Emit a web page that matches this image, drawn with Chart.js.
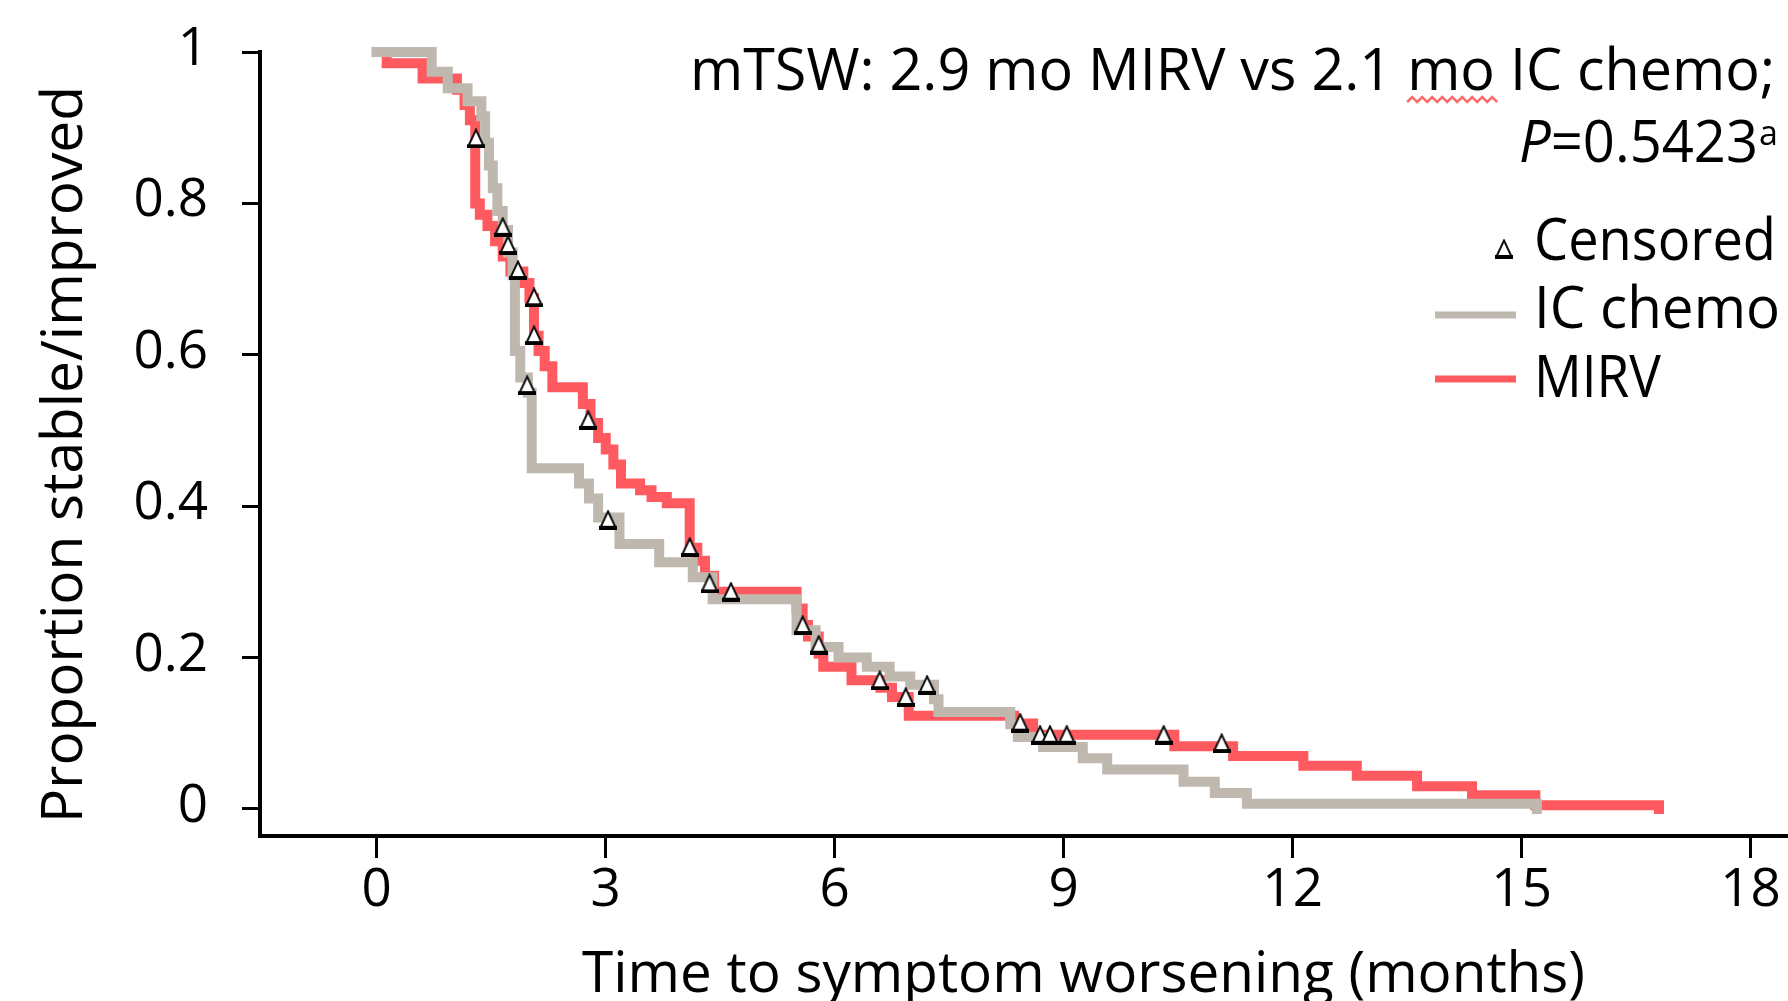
<!DOCTYPE html>
<html>
<head>
<meta charset="utf-8">
<title>Time to symptom worsening</title>
<script src="https://cdn.jsdelivr.net/npm/chart.js@4.4.1/dist/chart.umd.min.js"></script>
<style>
  html, body { margin:0; padding:0; background:#fff; }
  #wrap { width:1788px; height:1001px; }
</style>
</head>
<body>
<div id="wrap"><canvas id="kmChart" width="1788" height="1001"></canvas></div>
<script>
/* =======================
   DATA
======================= */
const mirvTime = [0, 0.13, 0.6, 1.05, 1.15, 1.22, 1.29, 1.35, 1.45, 1.55, 1.65, 1.75, 1.92, 2.0, 2.06, 2.12, 2.2, 2.3, 2.7, 2.8,
  2.9, 3.0, 3.1, 3.2, 3.45, 3.6, 3.8, 4.1, 4.2, 4.3, 4.42, 5.5, 5.58, 5.65, 5.79, 5.85, 6.22, 6.6, 6.75, 6.97,
  8.35, 8.6, 10.45, 11.22, 12.14, 12.84, 13.63, 14.35, 15.18, 16.8];
const mirvSurv = [1, 0.985, 0.965, 0.95, 0.93, 0.91, 0.8, 0.785, 0.77, 0.75, 0.73, 0.71, 0.695, 0.675, 0.625, 0.605, 0.585, 0.557, 0.535, 0.51,
  0.49, 0.475, 0.455, 0.43, 0.421, 0.412, 0.404, 0.345, 0.328, 0.308, 0.287, 0.265, 0.243, 0.228, 0.205, 0.188, 0.17, 0.16, 0.148, 0.123,
  0.113, 0.098, 0.083, 0.07, 0.057, 0.044, 0.03, 0.018, 0.005, 0];

const icTime = [0, 0.72, 0.93, 1.19, 1.37, 1.42, 1.47, 1.52, 1.58, 1.65, 1.72, 1.78, 1.81, 1.88, 1.98, 2.03, 2.65, 2.78, 2.9, 3.18,
  3.7, 4.14, 4.4, 5.5, 5.75, 6.05, 6.42, 6.72, 6.99, 7.3, 7.36, 8.3, 8.4, 8.73, 9.25, 9.57, 10.57, 10.98, 11.4, 15.2];
const icSurv = [1, 0.974, 0.952, 0.935, 0.915, 0.88, 0.85, 0.82, 0.79, 0.765, 0.735, 0.705, 0.605, 0.57, 0.55, 0.45, 0.43, 0.41, 0.385, 0.35,
  0.326, 0.306, 0.277, 0.236, 0.214, 0.2, 0.188, 0.175, 0.164, 0.145, 0.128, 0.112, 0.095, 0.082, 0.067, 0.052, 0.036, 0.021, 0.007, 0];

const censorTime = [1.30, 1.65, 1.72, 1.85, 2.06, 2.06, 1.97, 2.77, 3.03, 4.10, 4.36, 4.64, 5.58, 5.79, 6.59, 6.93, 7.21, 8.43, 8.69, 8.82, 9.04, 10.31, 11.07];
const censorSurv = [0.886, 0.769, 0.745, 0.712, 0.676, 0.626, 0.560, 0.514, 0.382, 0.346, 0.298, 0.287, 0.243, 0.217, 0.170, 0.148, 0.164, 0.114, 0.098, 0.098, 0.098, 0.098, 0.087];

const xTicks = [0, 3, 6, 9, 12, 15, 18];
const yTicks = [0, 0.2, 0.4, 0.6, 0.8, 1];

const seriesNames = ['Censored', 'IC chemo', 'MIRV'];
const xTitle = 'Time to symptom worsening (months)';
const yTitle = 'Proportion stable/improved';
const noteLine1 = 'mTSW: 2.9 mo MIRV vs 2.1 mo IC chemo;';
const notePValue = '=0.5423';

/* =======================
   STYLE
======================= */
const FONT = '"Open Sans", "Noto Sans", sans-serif';
const RED = '#ff5a5f';
const GREY = '#bfb8af';

function toPoints(xs, ys){
  return xs.map((x, i) => ({ x: x, y: ys[i] }));
}

// open triangle used for censored marks (thin sides, heavy base)
function makeTriangle(){
  const c = document.createElement('canvas');
  c.width = 18; c.height = 20;
  const g = c.getContext('2d');
  g.beginPath();
  g.moveTo(9, 1.5); g.lineTo(16.5, 17.5); g.lineTo(1.5, 17.5); g.closePath();
  g.fillStyle = '#fff'; g.fill();
  g.lineWidth = 2; g.strokeStyle = '#111'; g.stroke();
  g.fillStyle = '#000'; g.fillRect(0, 16, 18, 4);
  return c;
}
const triangle = makeTriangle();

// draw text stretched horizontally to a target width
function drawFit(ctx, text, x, y, width, font, angle){
  ctx.font = font;
  const w = ctx.measureText(text).width;
  const sx = width / w;
  ctx.save();
  ctx.translate(x, y);
  if (angle) ctx.rotate(angle);
  ctx.scale(sx, 1);
  ctx.textAlign = 'left';
  ctx.fillText(text, 0, 0);
  ctx.restore();
  return sx;
}

/* =======================
   TEXT + LEGEND PLUGIN
======================= */
const notesPlugin = {
  id: 'notes',
  afterDraw(chart){
    const ctx = chart.ctx;
    ctx.save();
    ctx.fillStyle = '#000';
    ctx.textBaseline = 'alphabetic';

    // axis titles
    drawFit(ctx, xTitle, 582, 992, 1003, '57px ' + FONT);
    drawFit(ctx, yTitle, 82, 823, 737, '57px ' + FONT, -Math.PI / 2);

    // first annotation line
    const f1 = '58px ' + FONT;
    const sx = drawFit(ctx, noteLine1, 690, 90, 1085, f1);
    ctx.font = f1;
    const pre = ctx.measureText('mTSW: 2.9 mo MIRV vs 2.1 ').width * sx;
    const moW = ctx.measureText('mo').width * sx;
    // spell-check squiggle under "mo"
    ctx.strokeStyle = '#ff6b6b';
    ctx.lineWidth = 2.5;
    ctx.beginPath();
    let px = 690 + pre;
    let up = true;
    ctx.moveTo(px, 102);
    while (px < 690 + pre + moW){
      px += 5;
      ctx.lineTo(px, up ? 97 : 102);
      up = !up;
    }
    ctx.stroke();

    // P value line
    const fItal = 'italic 58px ' + FONT;
    const fReg = '58px ' + FONT;
    ctx.font = fItal;
    const wP = ctx.measureText('P').width;
    ctx.font = fReg;
    const wRest = ctx.measureText(notePValue).width;
    const s2 = 239 / (wP + wRest);
    ctx.save();
    ctx.translate(1519, 162);
    ctx.scale(s2, 1);
    ctx.font = fItal;
    ctx.fillText('P', 0, 0);
    ctx.font = fReg;
    ctx.fillText(notePValue, wP, 0);
    ctx.restore();
    ctx.font = '34px ' + FONT;
    ctx.fillText('a', 1759, 145);

    // legend
    ctx.drawImage(triangle, 1504 - triangle.width / 2, 249 - triangle.height / 2);
    ctx.lineWidth = 7;
    ctx.lineCap = 'butt';
    ctx.strokeStyle = GREY;
    ctx.beginPath(); ctx.moveTo(1435, 315); ctx.lineTo(1516, 315); ctx.stroke();
    ctx.strokeStyle = RED;
    ctx.beginPath(); ctx.moveTo(1435, 379); ctx.lineTo(1516, 379); ctx.stroke();
    ctx.fillStyle = '#000';
    drawFit(ctx, seriesNames[0], 1534, 260, 242, '58px ' + FONT);
    drawFit(ctx, seriesNames[1], 1534, 328, 246, '58px ' + FONT);
    drawFit(ctx, seriesNames[2], 1534, 397, 127, '58px ' + FONT);
    ctx.restore();
  }
};

/* =======================
   CHART
======================= */
const lineStyle = {
  borderWidth: 10,
  stepped: true,
  pointRadius: 0,
  fill: false,
  borderCapStyle: 'square',
  borderJoinStyle: 'miter',
  clip: false
};

const ctx = document.getElementById('kmChart').getContext('2d');
new Chart(ctx, {
  type: 'line',
  data: {
    datasets: [
      {
        label: seriesNames[0],
        data: toPoints(censorTime, censorSurv),
        showLine: false,
        pointStyle: triangle,
        pointRadius: 9,
        pointHoverRadius: 9,
        order: 0,
        clip: false
      },
      Object.assign({ label: seriesNames[1], data: toPoints(icTime, icSurv), borderColor: GREY, order: 1 }, lineStyle),
      Object.assign({ label: seriesNames[2], data: toPoints(mirvTime, mirvSurv), borderColor: RED, order: 2 }, lineStyle)
    ]
  },
  options: {
    responsive: false,
    devicePixelRatio: 1,
    animation: false,
    layout: { autoPadding: false, padding: { top: 52, right: 0, bottom: 0, left: 0 } },
    plugins: {
      legend: { display: false },
      tooltip: { enabled: false }
    },
    scales: {
      x: {
        type: 'linear',
        min: -1.53,
        max: 18.49,
        afterFit: s => { s.height = 165; s.paddingLeft = 0; s.paddingRight = 0; },
        afterBuildTicks: s => { s.ticks = xTicks.map(v => ({ value: v })); },
        border: { display: true, color: '#000', width: 4 },
        grid: { display: true, drawOnChartArea: false, drawTicks: true, tickLength: 22, tickWidth: 3, tickColor: '#000' },
        ticks: { color: '#000', font: { family: FONT, size: 53 }, padding: 1, maxRotation: 0, autoSkip: false, callback: v => String(v) }
      },
      y: {
        type: 'linear',
        min: -0.0357,
        max: 1,
        afterFit: s => { s.width = 260; s.paddingTop = 0; s.paddingBottom = 0; },
        afterBuildTicks: s => { s.ticks = yTicks.map(v => ({ value: v })); },
        border: { display: true, color: '#000', width: 4 },
        grid: { display: true, drawOnChartArea: false, drawTicks: true, tickLength: 18, tickWidth: 3, tickColor: '#000' },
        ticks: { color: '#000', font: { family: FONT, size: 53 }, padding: 34, labelOffset: -2, callback: v => String(v) }
      }
    }
  },
  plugins: [notesPlugin]
});
</script>
</body>
</html>
